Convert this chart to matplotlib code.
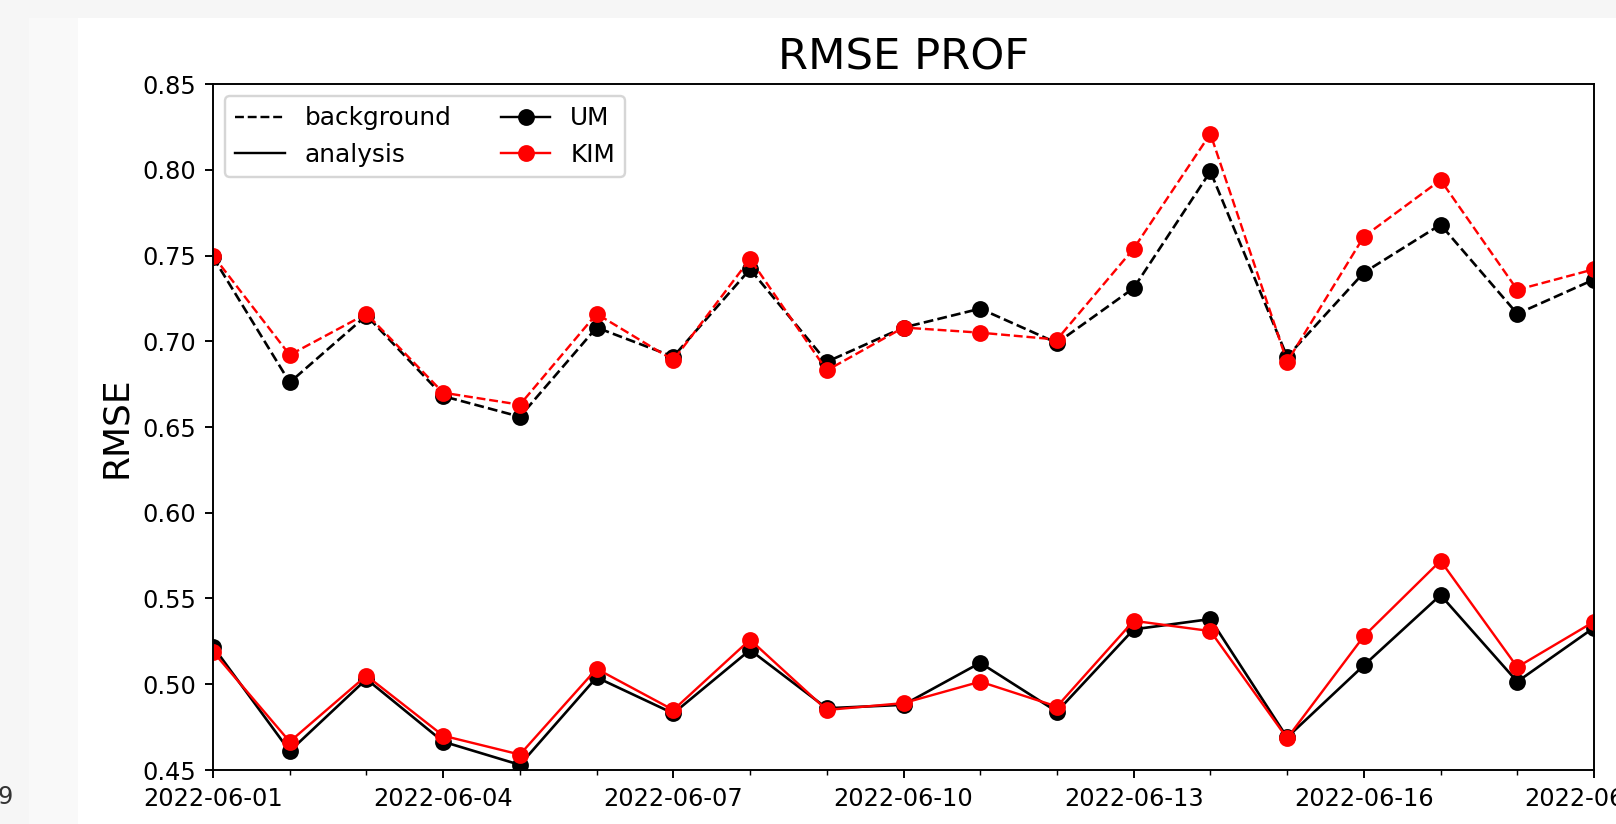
import matplotlib
matplotlib.use('Agg')
import numpy as np
import pandas as pd
import matplotlib.pyplot as plt
import matplotlib.dates as mdates
from matplotlib.lines import Line2D
from matplotlib.patches import Rectangle

# dates 2022-06-01 .. 2022-06-19
dates = pd.date_range('2022-06-01', '2022-06-19', freq='D')

# background RMSE
um_bg = [0.749, 0.676, 0.715, 0.668, 0.656, 0.708, 0.691, 0.742, 0.688, 0.708,
         0.719, 0.699, 0.731, 0.799, 0.691, 0.740, 0.768, 0.716, 0.736]
kim_bg = [0.750, 0.692, 0.716, 0.670, 0.663, 0.716, 0.689, 0.748, 0.683, 0.708,
          0.705, 0.701, 0.754, 0.821, 0.688, 0.761, 0.794, 0.730, 0.742]

# analysis RMSE
um_an = [0.522, 0.461, 0.503, 0.4665, 0.453, 0.504, 0.483, 0.520, 0.486, 0.488,
         0.5125, 0.484, 0.532, 0.538, 0.469, 0.511, 0.552, 0.5015, 0.533]
kim_an = [0.519, 0.4665, 0.505, 0.470, 0.459, 0.509, 0.485, 0.526, 0.485, 0.489,
          0.5015, 0.487, 0.537, 0.531, 0.4685, 0.528, 0.572, 0.510, 0.5365]

DPI = 173
W, H = 1616, 824
fig = plt.figure(figsize=(W / DPI, H / DPI), dpi=DPI)
fig.patch.set_facecolor('white')

# grey page margins around the screenshot
fig.patches.append(Rectangle((0, 1 - 18 / H), 1, 18 / H, transform=fig.transFigure,
                             facecolor='#f6f6f6', edgecolor='none', zorder=0))
fig.patches.append(Rectangle((0, 0), 29 / W, 1, transform=fig.transFigure,
                             facecolor='#f6f6f6', edgecolor='none', zorder=0))
fig.patches.append(Rectangle((29 / W, 0), 49 / W, 1 - 18 / H, transform=fig.transFigure,
                             facecolor='#f9f9f9', edgecolor='none', zorder=0))
# leftover tick label of a neighbouring panel
fig.text(13 / W, 1 - 797 / H, '9', ha='right', va='center', fontsize=10, color='#333333')

ax = fig.add_axes([213 / W, (H - 770) / H, (1594 - 213) / W, (770 - 84) / H])

ax.plot(dates, um_bg, color='k', linestyle='--', marker='o', lw=1.1, ms=6)
ax.plot(dates, kim_bg, color='r', linestyle='--', marker='o', lw=1.0, ms=6)
ax.plot(dates, um_an, color='k', linestyle='-', marker='o', lw=1.1, ms=6)
ax.plot(dates, kim_an, color='r', linestyle='-', marker='o', lw=1.0, ms=6)

ax.set_xlim(dates[0], dates[-1])
ax.set_ylim(0.45, 0.85)
ax.set_yticks(np.arange(0.45, 0.851, 0.05))
ax.yaxis.set_major_formatter(plt.FormatStrFormatter('%.2f'))
ax.xaxis.set_major_locator(mdates.DayLocator(interval=3))
ax.xaxis.set_minor_locator(mdates.DayLocator())
ax.xaxis.set_major_formatter(mdates.DateFormatter('%Y-%m-%d'))

ax.set_title('RMSE PROF', fontsize=18)
ax.set_ylabel('RMSE', fontsize=15)

handles = [
    Line2D([], [], color='k', linestyle='--', lw=1.0),
    Line2D([], [], color='k', linestyle='-', lw=1.0),
    Line2D([], [], color='k', linestyle='-', marker='o', lw=1.0, ms=6),
    Line2D([], [], color='r', linestyle='-', marker='o', lw=1.0, ms=6),
]
labels = ['background', 'analysis', 'UM', 'KIM']
ax.legend(handles, labels, loc='upper left', ncol=2, fontsize=10.3)

plt.savefig('out.png', dpi=DPI)
